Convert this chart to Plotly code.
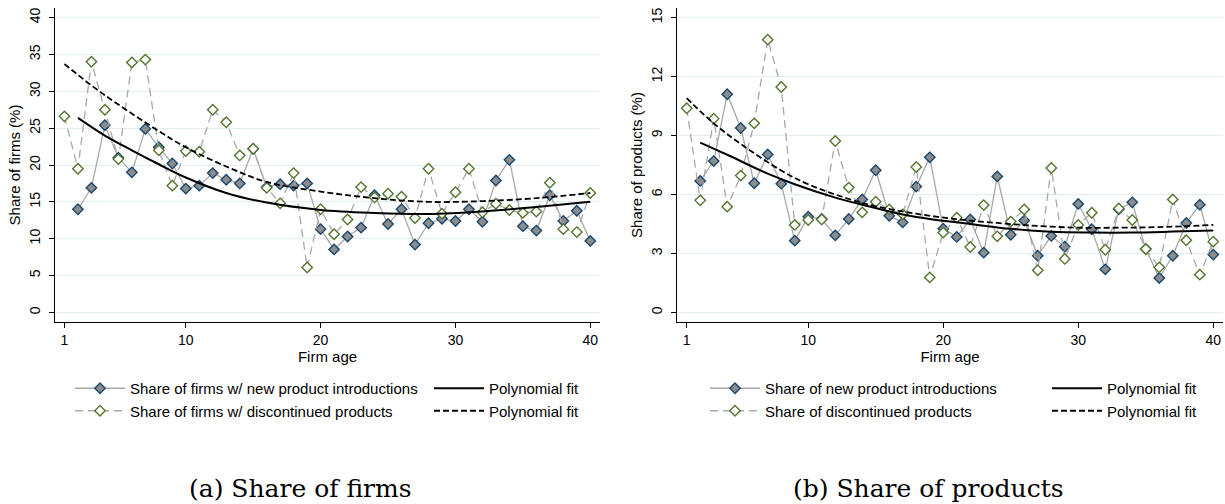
import plotly.graph_objects as go

# ---------------- data ----------------
ages = list(range(1, 41))
ages_from2 = list(range(2, 41))

# Panel (a): share of firms (%)
firms_new = [14.0, 16.9, 25.4, 21.0, 19.0, 24.9, 22.4, 20.2, 16.8, 17.2,
             18.9, 18.0, 17.5, 22.2, 17.0, 17.4, 17.2, 17.5, 11.3, 8.55,
             10.3, 11.5, 15.9, 12.0, 14.0, 9.2, 12.1, 12.7, 12.4, 14.0,
             12.3, 17.9, 20.7, 11.7, 11.1, 15.9, 12.4, 13.8, 9.7]
firms_disc = [26.6, 19.5, 34.0, 27.5, 20.8, 33.9, 34.3, 22.0, 17.2, 21.9,
              21.8, 27.5, 25.8, 21.3, 22.2, 16.9, 14.8, 18.9, 6.1, 14.0,
              10.6, 12.6, 17.0, 15.6, 16.1, 15.7, 12.8, 19.5, 13.4, 16.3,
              19.5, 13.6, 14.75, 13.9, 13.5, 13.7, 17.6, 11.3, 10.9, 16.2]
firms_fit_new_x = [2, 4, 6, 8, 10, 13, 16, 20, 24, 28, 32, 36, 40]
firms_fit_new_y = [26.4, 24.0, 22.0, 20.1, 18.3, 16.2, 14.9, 13.9, 13.5, 13.35, 13.7, 14.3, 15.0]
firms_fit_disc_x = [1, 3, 5, 8, 10, 13, 16, 20, 24, 28, 32, 36, 40]
firms_fit_disc_y = [33.7, 30.8, 28.2, 24.6, 22.4, 19.8, 17.7, 16.4, 15.5, 15.0, 15.1, 15.5, 16.2]

# Panel (b): share of products (%)
prod_new = [6.69, 7.70, 11.10, 9.38, 6.57, 8.04, 6.55, 3.65, 4.87, 4.75,
            3.92, 4.75, 5.75, 7.23, 4.92, 4.58, 6.40, 7.89, 4.26, 3.84,
            4.73, 3.04, 6.92, 3.95, 4.67, 2.88, 3.89, 3.34, 5.52, 4.23,
            2.19, 5.25, 5.60, 3.22, 1.75, 2.88, 4.55, 5.48, 2.94]
prod_disc = [10.39, 5.70, 9.86, 5.38, 6.96, 9.62, 13.88, 11.47, 4.45, 4.70,
             4.73, 8.72, 6.35, 5.09, 5.63, 5.24, 4.99, 7.40, 1.78, 4.06,
             4.82, 3.33, 5.46, 3.87, 4.62, 5.24, 2.14, 7.35, 2.72, 4.45,
             5.07, 3.19, 5.29, 4.70, 3.22, 2.29, 5.75, 3.67, 1.92, 3.60]
prod_fit_new_x = [2, 4, 7, 9, 12, 14, 17, 19, 22, 25, 28, 31, 34, 37, 40]
prod_fit_new_y = [8.64, 8.02, 7.06, 6.52, 5.84, 5.48, 4.98, 4.75, 4.50, 4.25, 4.10, 4.06, 4.06, 4.11, 4.17]
prod_fit_disc_x = [1, 3, 5, 8, 10, 13, 15, 18, 21, 24, 27, 30, 33, 36, 40]
prod_fit_disc_y = [10.9, 9.62, 8.57, 7.22, 6.52, 5.77, 5.40, 5.02, 4.74, 4.55, 4.40, 4.31, 4.31, 4.34, 4.45]

x_ticks = [1, 10, 20, 30, 40]
firms_yticks = [0, 5, 10, 15, 20, 25, 30, 35, 40]
prod_yticks = [0, 3, 6, 9, 12, 15]

# ---------------- styling ----------------
FONT = "Liberation Sans, Arial, sans-serif"
NAVY = "#1a476f"
GREEN = "#55752f"
GRAYFILL = "#8c8c8c"
CONN = "#a8a8a8"
GRID = "#e3ecef"

W, H = 1225, 504
ML = 55
MT = 8
MB = H - 322
MR = W - 1223
PW = W - ML - MR
PH = H - MT - MB


def px_x(px):
    """page pixel x -> paper coordinate"""
    return (px - ML) / PW


def px_y(py):
    """page pixel y -> paper coordinate"""
    return (H - MB - py) / PH


fig = go.Figure()


def add_panel(xa, ya, legend, new_vals, disc_vals, fitn_x, fitn_y, fitd_x, fitd_y,
              name_new, name_disc, col1_width):
    fig.add_trace(go.Scatter(
        x=ages_from2, y=new_vals, mode="lines+markers", name=name_new,
        xaxis=xa, yaxis=ya, legend=legend, legendgroup=legend + "a",
        legendwidth=col1_width,
        line=dict(color=CONN, width=1.3),
        marker=dict(symbol="diamond", size=8, color=GRAYFILL,
                    line=dict(color=NAVY, width=1.4)),
    ))
    fig.add_trace(go.Scatter(
        x=ages, y=disc_vals, mode="lines+markers", name=name_disc,
        xaxis=xa, yaxis=ya, legend=legend, legendgroup=legend + "a",
        legendwidth=col1_width,
        line=dict(color=CONN, width=1.3, dash="8px,5px"),
        marker=dict(symbol="diamond", size=8, color="white",
                    line=dict(color=GREEN, width=1.4)),
    ))
    fig.add_trace(go.Scatter(
        x=fitn_x, y=fitn_y, mode="lines", name="Polynomial fit",
        xaxis=xa, yaxis=ya, legend=legend, legendgroup=legend + "b",
        line=dict(color="black", width=2, shape="spline", smoothing=1.0),
    ))
    fig.add_trace(go.Scatter(
        x=fitd_x, y=fitd_y, mode="lines", name="Polynomial fit",
        xaxis=xa, yaxis=ya, legend=legend, legendgroup=legend + "b",
        line=dict(color="black", width=1.8, dash="6px,3px", shape="spline", smoothing=1.0),
    ))


add_panel("x", "y", "legend", firms_new, firms_disc,
          firms_fit_new_x, firms_fit_new_y, firms_fit_disc_x, firms_fit_disc_y,
          "Share of firms w/ new product introductions",
          "Share of firms w/ discontinued products", 294)
add_panel("x2", "y2", "legend2", prod_new, prod_disc,
          prod_fit_new_x, prod_fit_new_y, prod_fit_disc_x, prod_fit_disc_y,
          "Share of new product introductions",
          "Share of discontinued products", 277)

xcommon = dict(
    tickvals=x_ticks, ticks="outside", ticklen=5, tickwidth=1, tickcolor="black",
    showline=True, linecolor="black", linewidth=1, showgrid=False, zeroline=False,
    tickfont=dict(family=FONT, size=14, color="black"), ticklabeloverflow="allow",
    title=dict(text="Firm age", font=dict(family=FONT, size=15, color="black"), standoff=4),
)
ycommon = dict(
    ticks="outside", ticklen=5, tickwidth=1, tickcolor="black", tickangle=-90,
    showline=True, linecolor="black", linewidth=1, showgrid=True, gridcolor=GRID,
    gridwidth=1, zeroline=False, ticklabeloverflow="allow", ticklabelstandoff=3,
    tickfont=dict(family=FONT, size=14, color="black"),
)

left_dom = [px_x(55), px_x(600)]
right_dom = [px_x(677), px_x(1223)]

fig.update_layout(
    width=W, height=H,
    margin=dict(l=ML, r=MR, t=MT, b=MB, pad=0, autoexpand=False),
    paper_bgcolor="white", plot_bgcolor="white",
    font=dict(family=FONT, size=15, color="black"),
    xaxis=dict(domain=left_dom, range=[0.3, 40.72], anchor="y", **xcommon),
    yaxis=dict(domain=[0, 1], range=[-1.3, 41.3], anchor="x", tickvals=firms_yticks,
               title=dict(text="Share of firms (%)", font=dict(family=FONT, size=15), standoff=3),
               **ycommon),
    xaxis2=dict(domain=right_dom, range=[0.28, 40.72], anchor="y2", **xcommon),
    yaxis2=dict(domain=[0, 1], range=[-0.49, 15.49], anchor="x2", tickvals=prod_yticks,
                title=dict(text="Share of products (%)", font=dict(family=FONT, size=15), standoff=3),
                **ycommon),
    legend=dict(orientation="h", x=px_x(70), xanchor="left", y=px_y(372), yanchor="top",
                itemwidth=50, tracegroupgap=0, traceorder="grouped",
                font=dict(family=FONT, size=15, color="black"), bgcolor="rgba(0,0,0,0)"),
    legend2=dict(orientation="h", x=px_x(705), xanchor="left", y=px_y(372), yanchor="top",
                 itemwidth=50, tracegroupgap=0, traceorder="grouped",
                 font=dict(family=FONT, size=15, color="black"), bgcolor="rgba(0,0,0,0)"),
    annotations=[
        dict(text="(a) Share of firms", x=px_x(300), y=px_y(488), xref="paper", yref="paper",
             xanchor="center", yanchor="middle", showarrow=False,
             font=dict(family="DejaVu Serif", size=25, color="black")),
        dict(text="(b) Share of products", x=px_x(928), y=px_y(488), xref="paper", yref="paper",
             xanchor="center", yanchor="middle", showarrow=False,
             font=dict(family="DejaVu Serif", size=25, color="black")),
    ],
    showlegend=True,
)

fig.write_html(
    "out.html",
    config={"displayModeBar": False},
    post_script="document.body.style.margin='0';"
                "document.body.style.overflow='hidden';"
                "document.documentElement.style.overflow='hidden';",
)
